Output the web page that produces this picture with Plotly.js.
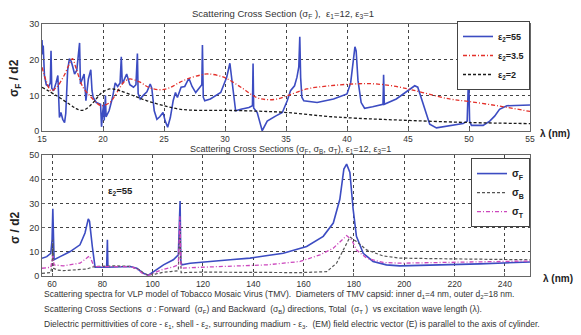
<!DOCTYPE html>
<html><head><meta charset="utf-8">
<script src="https://cdn.plot.ly/plotly-3.0.1.min.js"></script>
<style>html,body{margin:0;padding:0;background:#fff;}#chart{width:581px;height:335px;}</style>
</head><body><div id="chart"></div>
<script>
// ---- Top panel: sigma_F / d2 vs lambda (nm) ----
const lamTop55 = [15.0,15.05,15.1,15.2,15.35,15.55,15.68,15.74,15.8,15.95,16.15,16.3,16.43,16.55,16.7,16.85,16.95,17.1,17.25,17.4,17.53,17.67,17.85,18.08,18.15,18.3,18.45,18.6,18.8,19.0,19.1,19.2,19.45,19.8,19.88,19.97,20.05,20.1,20.2,20.25,20.5,20.78,21.0,21.2,21.4,21.5,21.58,21.75,21.94,22.2,22.5,22.7,22.82,22.88,23.05,23.3,23.6,23.87,24.0,24.2,24.42,24.65,24.92,25.1,25.3,25.52,25.75,25.94,26.1,26.4,26.7,27.04,27.3,27.6,27.9,28.1,28.15,28.22,28.34,28.8,29.65,30.14,30.4,30.55,30.87,31.3,31.96,32.25,32.3,32.35,32.64,33.05,33.46,34.14,34.7,35.1,35.37,35.7,35.9,36.05,36.13,36.2,36.3,36.46,37.55,38.9,40.0,40.3,40.5,40.65,40.75,40.9,41.16,41.44,42.1,42.95,43.0,43.06,44.04,45.0,45.55,45.8,46.23,46.78,47.33,48.42,49.52,49.85,49.97,50.05,50.2,51.16,51.7,52.1,52.5,53.1,55.0];
const sigTop55 = [25.5,21.5,24.0,15.5,13.0,12.5,13.5,22.5,12.0,11.3,13.5,15.6,3.8,5.2,3.3,2.4,5.0,17.0,20.3,19.5,17.9,16.0,17.0,24.7,13.2,14.6,16.0,8.5,14.6,17.2,11.3,9.4,8.0,7.5,1.2,5.2,7.5,3.0,10.0,4.0,5.7,9.4,13.5,12.5,13.5,20.8,13.2,14.5,16.0,13.0,12.3,13.0,21.7,10.5,9.0,10.0,11.0,13.2,12.0,5.7,3.3,4.0,5.2,2.8,1.1,3.8,8.5,10.8,9.4,12.3,12.5,14.8,12.5,10.8,12.3,13.0,24.1,9.5,8.5,9.0,10.8,15.1,19.0,14.6,5.7,6.1,6.6,7.1,18.9,6.5,5.2,0.1,2.8,4.2,5.2,8.5,11.3,12.7,15.1,18.0,26.4,15.0,9.5,8.5,8.0,9.0,10.4,13.5,19.0,23.6,22.5,14.2,8.0,6.4,6.8,7.5,15.8,7.5,9.0,11.3,12.7,12.3,7.5,1.9,0.9,1.4,2.1,2.8,16.0,2.8,1.6,1.6,2.8,4.2,6.1,7.1,7.3];

const lamTop35 = [15.0,15.33,15.74,16.2,16.8,17.2,17.5,17.8,18.36,19.05,19.5,19.9,20.56,21.0,21.4,21.8,22.2,23.04,23.6,24.15,24.8,25.5,26.2,26.9,28.0,28.6,29.9,31.3,32.6,33.5,34.3,35.1,36.7,38.6,40.5,41.85,43.5,45.0,46.2,48.4,50.0,52.5,55.0];
const sigTop35 = [17.9,14.2,11.3,12.3,15.5,18.5,20.3,17.5,12.3,9.4,7.8,7.1,8.0,10.0,12.3,14.0,14.6,13.7,12.5,11.8,11.6,12.2,13.5,14.6,15.7,16.0,15.1,12.3,9.4,8.8,9.0,9.9,11.8,12.7,13.2,13.3,12.8,11.8,10.8,9.0,8.3,7.0,5.5];

const lamTop2 = [15.0,16.2,17.26,17.8,18.2,18.6,19.2,19.9,20.56,21.0,21.4,22.5,23.6,25.0,26.35,28.0,30.0,32.6,35.1,38.1,40.8,45.0,50.0,55.0];
const sigTop2 = [12.3,9.9,7.5,6.3,5.8,6.2,8.0,10.8,11.8,11.7,11.3,9.9,8.5,7.1,6.1,5.8,5.8,5.6,5.2,4.2,3.6,3.0,2.4,2.1];

// ---- Bottom panel: sigma / d2 vs lambda (nm), eps2 = 55 ----
const lamF = [56,57.9,59.5,60.0,60.3,60.5,60.8,63.2,67.2,71.1,73.1,74.4,74.9,76.0,77.1,81.7,82.0,82.2,91,93.7,96.3,98.3,100.3,104.3,108.2,110.2,110.7,110.9,111.2,111.6,114.9,121.5,130.8,138.7,151.9,161.2,167.8,171.8,174.4,176,177.1,178.4,179.7,181,183.7,187.6,192.9,198.2,210,230,250];
const sigF = [7.3,8.0,9.4,15,27.8,8,6.7,8.0,10.1,12.9,17.8,23.6,22.6,12.2,3.6,3.6,15,3.6,3.9,3.2,1.1,0.3,1.8,4.6,6.7,8.75,25,31,6,4.6,5.3,6.0,6.7,7.4,9.4,12.2,16.4,21.9,31.7,44.2,46.25,42.8,27.5,16.4,9.4,6.0,4.6,4.2,4.4,5.0,5.8];

const lamB = [56,59.5,60.0,60.3,60.6,62,64.5,70,73.8,76.7,85,91,93.7,95,96.5,98.3,101,104,107,110.2,110.8,111.3,120,140,158.6,169.2,173.1,175.8,178.4,181,185,191.6,198.2,210,230,250];
const sigB = [1.1,1.4,5,15,3.2,2.5,2.2,2.5,2.9,3.9,4.2,4.0,3.0,2.5,1.0,0.3,0.8,1.5,1.8,2.2,20,1.4,1.6,1.5,1.4,1.8,5.3,10.8,16.1,14.3,10.8,8.3,7.4,7.2,6.9,6.7];

const lamT = [56,59.5,60.3,60.8,64.5,71.1,73.8,74.8,75.6,76.7,91,93.7,96.3,98.3,101,104.3,108.2,110.2,110.8,111.3,118.8,130.8,145.3,158.6,166.5,171.8,175.8,177.1,179.1,181,185,191.6,198.2,220,250];
const sigT = [3.2,3.6,8.3,4.6,4.2,5.3,7.4,8.3,6.7,3.9,3.9,3.0,0.8,0.3,1.5,2.8,3.8,4.6,24.7,3.2,3.6,4.0,4.6,6.0,8.75,11.5,15.7,16.7,15.0,10.8,7.4,5.6,5.3,5.6,6.2];

const topNames = ['ε<sub>2</sub>=55','ε<sub>2</sub>=3.5','ε<sub>2</sub>=2'];
const botNames = ['σ<sub>F</sub>','σ<sub>B</sub>','σ<sub>T</sub>'];
const xTicksTop = [15,20,25,30,35,40,45,50,55];
const xTicksBot = [60,80,100,120,140,160,180,200,220,240];
const yTicksTop = [0,10,20,30];
const yTicksBot = [0,10,20,30,40,50];

const FONT = 'Liberation Sans, Arial, sans-serif';
const BLUE = '#3c4cc2', RED = '#e3302a', BLK = '#1a1a1a', GRAY = '#555555', MAG = '#cc47bd';

const traces = [
  {x: lamTop55, y: sigTop55, name: topNames[0], mode: 'lines', line: {color: BLUE, width: 1.6}, xaxis: 'x', yaxis: 'y', legend: 'legend'},
  {x: lamTop35, y: sigTop35, name: topNames[1], mode: 'lines', line: {color: RED, width: 1.3, dash: '4px,2px,1px,2px', shape: 'spline'}, xaxis: 'x', yaxis: 'y', legend: 'legend'},
  {x: lamTop2, y: sigTop2, name: topNames[2], mode: 'lines', line: {color: BLK, width: 1.3, dash: '3px,2px', shape: 'spline'}, xaxis: 'x', yaxis: 'y', legend: 'legend'},
  {x: lamF, y: sigF, name: botNames[0], mode: 'lines', line: {color: BLUE, width: 1.6}, xaxis: 'x2', yaxis: 'y2', legend: 'legend2'},
  {x: lamB, y: sigB, name: botNames[1], mode: 'lines', line: {color: GRAY, width: 1.2, dash: '3px,2px'}, xaxis: 'x2', yaxis: 'y2', legend: 'legend2'},
  {x: lamT, y: sigT, name: botNames[2], mode: 'lines', line: {color: MAG, width: 1.3, dash: '4px,2px,1px,2px'}, xaxis: 'x2', yaxis: 'y2', legend: 'legend2'}
];

const axCommon = {
  showgrid: true, gridcolor: '#444', griddash: 'dot', gridwidth: 1,
  showline: true, mirror: true, linecolor: '#666', linewidth: 1,
  ticks: 'inside', ticklen: 3, tickcolor: '#666', zeroline: false,
  tickfont: {family: FONT, size: 9, color: '#333'}
};

const layout = {
  width: 581, height: 335, autosize: false,
  margin: {l: 42, r: 51, t: 24, b: 59},
  paper_bgcolor: '#fff', plot_bgcolor: '#fff',
  font: {family: FONT, color: '#222'},
  xaxis: Object.assign({}, axCommon, {domain: [0, 1], range: [15, 55], tickvals: xTicksTop, anchor: 'y', tickfont: {family: FONT, size: 8.5, color: '#333'}}),
  yaxis: Object.assign({}, axCommon, {domain: [0.575, 1], range: [0, 30], tickvals: yTicksTop, anchor: 'x'}),
  xaxis2: Object.assign({}, axCommon, {domain: [0, 1], range: [56, 250], tickvals: xTicksBot, anchor: 'y2', tickfont: {family: FONT, size: 8.5, color: '#333'}}),
  yaxis2: Object.assign({}, axCommon, {domain: [0, 0.48], range: [0, 50], tickvals: yTicksBot, anchor: 'x2'}),
  legend: {x: 1, xanchor: 'right', y: 1.012, yanchor: 'top', bgcolor: '#fff', bordercolor: '#444', borderwidth: 1,
           font: {family: FONT, size: 9, color: '#222', weight: 'bold'}, itemwidth: 30, tracegroupgap: 0},
  legend2: {x: 1, xanchor: 'right', y: 0.468, yanchor: 'top', bgcolor: '#fff', bordercolor: '#444', borderwidth: 1,
            font: {family: FONT, size: 10, color: '#222', weight: 'bold'}, itemwidth: 30, tracegroupgap: 0},
  annotations: [
    {text: 'Scattering Cross Section (σ<sub>F</sub> ),  ε<sub>1</sub>=12, ε<sub>3</sub>=1', xref: 'paper', yref: 'paper', x: 0.5, y: (276-14)/252, xanchor: 'center', yanchor: 'middle', showarrow: false, font: {family: FONT, size: 9.5, color: '#333'}, xshift: -3},
    {text: 'Scattering Cross Sections (σ<sub>F</sub>, σ<sub>B</sub>, σ<sub>T</sub>), ε<sub>1</sub>=12, ε<sub>3</sub>=1', xref: 'paper', yref: 'paper', x: 0.5, y: (276-149)/252, xanchor: 'center', yanchor: 'middle', showarrow: false, font: {family: FONT, size: 9, color: '#333'}, xshift: 4},
    {text: '<b>σ<sub>F</sub> / d2</b>', textangle: -90, xref: 'paper', yref: 'paper', x: 0, xshift: -27, y: (276-78)/252, xanchor: 'center', yanchor: 'middle', showarrow: false, font: {family: FONT, size: 12, color: '#222'}},
    {text: '<b>σ / d2</b>', textangle: -90, xref: 'paper', yref: 'paper', x: 0, xshift: -27, y: (276-228)/252, xanchor: 'center', yanchor: 'middle', showarrow: false, font: {family: FONT, size: 12, color: '#222'}},
    {text: '<b>λ (nm)</b>', xref: 'paper', yref: 'paper', x: 1, xshift: 8, y: (276-133)/252, xanchor: 'left', yanchor: 'middle', showarrow: false, font: {family: FONT, size: 10, color: '#222'}},
    {text: '<b>λ (nm)</b>', xref: 'paper', yref: 'paper', x: 1, xshift: 11, y: (276-278)/252, xanchor: 'left', yanchor: 'middle', showarrow: false, font: {family: FONT, size: 10, color: '#222'}},
    {text: '<b>ε<sub>2</sub>=55</b>', xref: 'x2', yref: 'y2', x: 87.4, y: 35, xanchor: 'center', yanchor: 'middle', showarrow: false, font: {family: FONT, size: 9.5, color: '#222'}},
    {text: 'Scattering spectra for VLP model of Tobacco Mosaic Virus (TMV).  Diameters of TMV capsid: inner d<sub>1</sub>=4 nm, outer d<sub>2</sub>=18 nm.', xref: 'paper', yref: 'paper', x: 0, y: (276-294)/252, xanchor: 'left', yanchor: 'middle', showarrow: false, font: {family: FONT, size: 8.5, color: '#333'}},
    {text: 'Scattering Cross Sections  σ : Forward  (σ<sub>F</sub>) and Backward  (σ<sub>B</sub>) directions, Total  (σ<sub>T</sub> )  vs excitation wave length (λ).', xref: 'paper', yref: 'paper', x: 0, y: (276-309)/252, xanchor: 'left', yanchor: 'middle', showarrow: false, font: {family: FONT, size: 8.5, color: '#333'}},
    {text: 'Dielectric permittivities of core - ε<sub>1</sub>, shell - ε<sub>2</sub>, surrounding madium - ε<sub>3</sub>.  (EM) field electric vector (E) is parallel to the axis of cylinder.', xref: 'paper', yref: 'paper', x: 0, y: (276-324)/252, xanchor: 'left', yanchor: 'middle', showarrow: false, font: {family: FONT, size: 8.5, color: '#333'}}
  ]
};

Plotly.newPlot('chart', traces, layout, {displayModeBar: false, staticPlot: true});
</script>
</body></html>
